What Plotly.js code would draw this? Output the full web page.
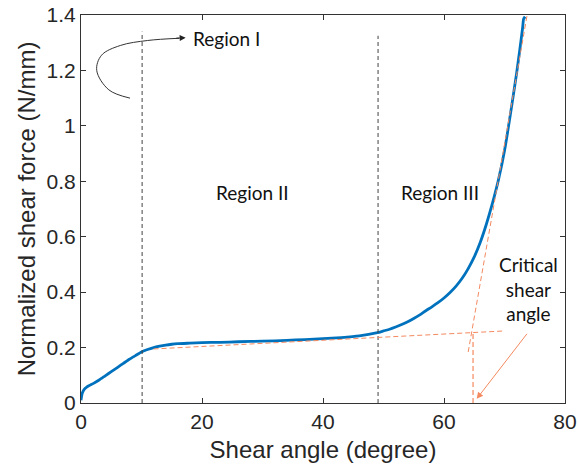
<!DOCTYPE html>
<html>
<head>
<meta charset="utf-8">
<script src="https://cdn.plot.ly/plotly-3.0.1.min.js"></script>
<style>html,body{margin:0;padding:0;background:#fff;}#chart{width:578px;height:474px;}</style>
</head>
<body>
<div id="chart"></div>
<script>
// Measured shear curve
const shearAngle = [0, 0.2, 0.5, 1, 2, 3, 4, 5, 6, 7, 8, 9, 10, 11, 12, 13, 14, 15, 16, 18, 20, 23, 26, 30, 34, 37, 40, 43, 46, 49, 50, 51, 52, 53, 54, 55, 56, 57, 58, 59, 60, 61, 62, 63, 64, 65, 66, 67, 68, 69, 70, 71, 72, 72.5, 73, 73.15, 73.4];
const shearForce = [0.01, 0.035, 0.048, 0.058, 0.07, 0.083, 0.098, 0.113, 0.128, 0.143, 0.158, 0.171, 0.184, 0.193, 0.200, 0.205, 0.209, 0.212, 0.214, 0.216, 0.218, 0.219, 0.221, 0.223, 0.226, 0.229, 0.232, 0.236, 0.242, 0.254, 0.26, 0.266, 0.274, 0.283, 0.293, 0.305, 0.318, 0.333, 0.347, 0.362, 0.379, 0.399, 0.422, 0.45, 0.485, 0.527, 0.58, 0.645, 0.72, 0.805, 0.91, 1.045, 1.19, 1.27, 1.355, 1.385, 1.394];

// Region boundaries
const regionBoundsX = [10.1, 49.1];
const regionBoundsTop = [1.34, 1.325];

// Tangent construction lines
const flatTangentX = [12, 70];
const flatTangentY = [0.195, 0.26];
const steepTangentX = [64.0, 73.9];
const steepTangentY = [0.184, 1.42];
const criticalAngle = 64.8;
const criticalY = 0.255;

// Region I curved arrow path
const arcX = [8.1, 4.6, 2.6, 3.4, 6.5, 11, 16.2];
const arcY = [1.10, 1.13, 1.20, 1.255, 1.29, 1.308, 1.316];

// Labels
const labelTexts = ["Region I", "Region II", "Region III", "Critical<br>shear<br>angle"];
const labelX = [18.1, 28.4, 59.3, 73.9];
const labelY = [1.314, 0.758, 0.758, 0.41];

const orange = '#F4895F';
const dashGray = '#444';
const annFont = {family: 'Lato, "Open Sans", sans-serif', size: 19, color: '#111'};

const traces = [
  {x: arcX, y: arcY, mode: 'lines', line: {color: '#333', width: 1, shape: 'spline'}, hoverinfo: 'skip'},
  {x: shearAngle, y: shearForce, mode: 'lines', line: {color: '#0072BD', width: 2.8, shape: 'spline', smoothing: 0.5}}
];

const shapes = [];
regionBoundsX.forEach((xv, i) => {
  shapes.push({type: 'line', xref: 'x', yref: 'y', x0: xv, x1: xv, y0: 0, y1: regionBoundsTop[i],
    line: {color: dashGray, width: 1, dash: '4px,3px'}});
});
shapes.push({type: 'line', xref: 'x', yref: 'y', x0: flatTangentX[0], x1: flatTangentX[1], y0: flatTangentY[0], y1: flatTangentY[1],
  line: {color: orange, width: 1, dash: '5px,3px'}});
shapes.push({type: 'line', xref: 'x', yref: 'y', x0: steepTangentX[0], x1: steepTangentX[1], y0: steepTangentY[0], y1: steepTangentY[1],
  line: {color: orange, width: 1, dash: '5px,3px'}});
shapes.push({type: 'line', xref: 'x', yref: 'y', x0: criticalAngle, x1: criticalAngle, y0: 0, y1: criticalY,
  line: {color: orange, width: 1.2, dash: '5px,3px'}});

const annotations = labelTexts.map((t, i) => ({
  x: labelX[i], y: labelY[i], xref: 'x', yref: 'y', text: t, showarrow: false,
  xanchor: i === 0 ? 'left' : 'center', yanchor: 'middle', font: annFont, align: 'center'
}));
annotations.push({x: 17.3, y: 1.318, ax: 15.5, ay: 1.316, axref: 'x', ayref: 'y', xref: 'x', yref: 'y',
  text: '', showarrow: true, arrowhead: 2, arrowsize: 1.2, arrowwidth: 1, arrowcolor: '#222'});
annotations.push({x: 65.4, y: 0.015, ax: 73.9, ay: 0.255, axref: 'x', ayref: 'y', xref: 'x', yref: 'y',
  text: '', showarrow: true, arrowhead: 2, arrowsize: 1.3, arrowwidth: 1, arrowcolor: orange});

const fam = '"Liberation Sans", Arial, sans-serif';
const tickFont = {family: fam, size: 21, color: '#262626'};
const titleFont = {family: fam, size: 24, color: '#262626'};
const layout = {
  width: 578, height: 474,
  margin: {l: 81, r: 13, t: 15, b: 71},
  paper_bgcolor: '#fff', plot_bgcolor: '#fff',
  showlegend: false,
  xaxis: {range: [0, 80], tickvals: [0, 20, 40, 60, 80], ticks: 'inside', ticklen: 5, tickcolor: '#333',
    showline: true, linecolor: '#333', linewidth: 1, mirror: 'ticks', showgrid: false, zeroline: false,
    tickfont: tickFont, automargin: false,
    title: {text: 'Shear angle (degree)', font: titleFont, standoff: 8}},
  yaxis: {range: [0, 1.4], tickvals: [0, 0.2, 0.4, 0.6, 0.8, 1, 1.2, 1.4], ticktext: ['0','0.2','0.4','0.6','0.8','1','1.2','1.4'],
    ticks: 'inside', ticklen: 5, tickcolor: '#333',
    showline: true, linecolor: '#333', linewidth: 1, mirror: 'ticks', showgrid: false, zeroline: false,
    tickfont: tickFont, automargin: false,
    title: {text: 'Normalized shear force (N/mm)', font: titleFont, standoff: 4}},
  shapes: shapes,
  annotations: annotations
};

Plotly.newPlot('chart', traces, layout, {staticPlot: true, displayModeBar: false});
</script>
</body>
</html>
